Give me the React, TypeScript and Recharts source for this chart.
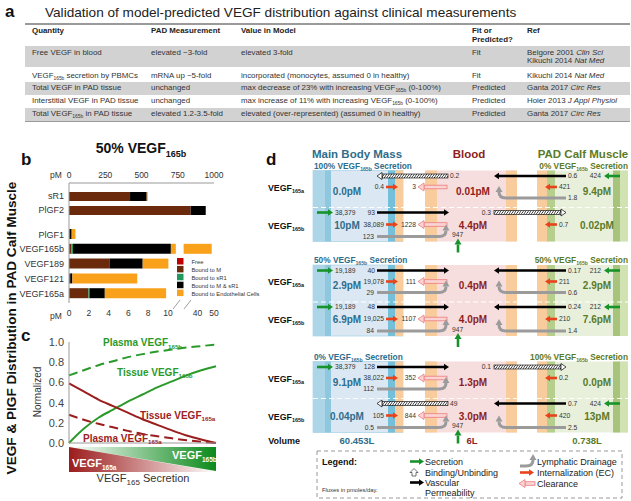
import React from 'react';
import { BarChart, Bar, XAxis, YAxis, LineChart, Line } from 'recharts';

const FONT = '"Liberation Sans", Arial, Helvetica, sans-serif';

// ---------- panel a: table ----------
const tableQuantity = ['Free VEGF in blood', 'VEGF_{165b} secretion by PBMCs', 'Total VEGF in PAD tissue', 'Interstitial VEGF in PAD tissue', 'Total VEGF_{165b} in PAD tissue'];
const tablePAD = ['elevated ~3-fold', 'mRNA up ~5-fold', 'unchanged', 'unchanged', 'elevated 1.2-3.5-fold'];
const tableModel = ['elevated 3-fold', 'incorporated (monocytes, assumed 0 in healthy)', 'max decrease of 23% with increasing VEGF_{165b} (0-100%)', 'max increase of 11% with increasing VEGF_{165b} (0-100%)', 'elevated (over-represented) (assumed 0 in healthy)'];
const tableFit = ['Fit', 'Fit', 'Predicted', 'Predicted', 'Predicted'];
const tableRef = ['Belgore 2001 *Clin Sci*|Kikuchi 2014 *Nat Med*', 'Kikuchi 2014 *Nat Med*', 'Ganta 2017 *Circ Res*', 'Hoier 2013 *J Appl Physiol*', 'Ganta 2017 *Circ Res*'];

// ---------- panel b: bars (pM) ----------
const topCats = ['sR1', 'PlGF2'];
const topFree = [0, 0];
const topM = [421, 839];
const topSR1 = [0, 0];
const topMSR1 = [115, 104];
const topEndo = [7, 0];
const topTicks = [0, 250, 500, 750, 1000];

const botCats = ['PlGF1', 'VEGF165b', 'VEGF189', 'VEGF121', 'VEGF165a'];
const botFree = [0, 0.02, 0, 0.02, 0.02];
const botM = [0.05, 0.22, 4.13, 0.1, 1.95];
const botSR1 = [0, 0.16, 0, 0, 0.1];
const botMSR1 = [0.22, 9.9, 3.32, 0.22, 1.55];
const botEndo = [0.38, 38.3, 2.6, 6.56, 6.2];
const botTicks = [0, 2, 4, 6, 8, 10, 40, 50];

const segKeys = ['free', 'm', 'sr1', 'msr1', 'endo'];
const segColors = ['#c00000', '#6b2a0c', '#1f9a5c', '#000000', '#f9a11b'];
const segLabels = ['Free', 'Bound to M', 'Bound to sR1', 'Bound to M & sR1', 'Bound to Endothelial Cells'];

// broken axis: 0-10.8 linear, 31.5-50 compressed
const BREAK_LO = 10.8;
const BREAK_HI = 31.5;
const hiMap = (v: number) => 13 + (v - 40) * 0.166;
const toDisp = (v: number) => {
  if (v <= BREAK_LO) return v;
  if (v >= BREAK_HI) return hiMap(v);
  return BREAK_LO + ((v - BREAK_LO) / (BREAK_HI - BREAK_LO)) * (hiMap(BREAK_HI) - BREAK_LO);
};

const topData = topCats.map((name, i) => ({
  name, free: topFree[i], m: topM[i], sr1: topSR1[i], msr1: topMSR1[i], endo: topEndo[i],
}));

const botData = botCats.map((name, i) => {
  const parts = [botFree[i], botM[i], botSR1[i], botMSR1[i], botEndo[i]];
  const row: any = { name, gap: 0, endo2: 0 };
  let cum = 0;
  segKeys.forEach((k, j) => {
    const s = cum;
    const e = cum + parts[j];
    cum = e;
    if (k === 'endo' && s < BREAK_LO && e > BREAK_HI) {
      row.endo = BREAK_LO - toDisp(s);
      row.gap = toDisp(BREAK_HI) - BREAK_LO;
      row.endo2 = toDisp(e) - toDisp(BREAK_HI);
    } else {
      row[k] = toDisp(e) - toDisp(s);
    }
  });
  return row;
});

// ---------- panel c: normalized curves ----------
const secretion = [0, 0.1, 0.2, 0.3, 0.4, 0.5, 0.6, 0.7, 0.8, 0.9, 1.0];
const plasma165b = [0.67, 0.72, 0.77, 0.81, 0.85, 0.88, 0.905, 0.925, 0.945, 0.96, 0.975];
const tissue165b = [0, 0.14, 0.25, 0.33, 0.41, 0.48, 0.55, 0.61, 0.67, 0.72, 0.76];
const tissue165a = [0.59, 0.51, 0.43, 0.365, 0.3, 0.235, 0.18, 0.125, 0.075, 0.035, 0];
const plasma165a = [0.28, 0.23, 0.19, 0.155, 0.12, 0.09, 0.067, 0.046, 0.028, 0.012, 0];
const lineData = secretion.map((x, i) => ({
  x, p165b: plasma165b[i], t165b: tissue165b[i], t165a: tissue165a[i], p165a: plasma165a[i],
}));

// ---------- panel d: compartment fluxes ----------
const blockHeadL = ['100%', '50%', '0%'];
const blockHeadR = ['0%', '50%', '100%'];
const blockTops = [170.5, 265, 361.5];
// [main, blood, calf] concentrations, rows a then b
const concA = [['0.0pM', '0.01pM', '9.4pM'], ['2.9pM', '0.4pM', '2.9pM'], ['9.1pM', '1.3pM', '0.0pM']];
const concB = [['10pM', '4.4pM', '0.02pM'], ['6.9pM', '4.0pM', '7.6pM'], ['0.04pM', '3.0pM', '13pM']];
type Flux = {
  sec?: string; perm: [string, 'r' | 'l', boolean]; intM: string; clear: string; lymM?: string;
  cperm?: [string, 'r' | 'l', boolean]; intC: string; csec?: string; lymC?: string;
};
const fluxA: Flux[] = [
  { perm: ['0.2', 'l', true], intM: '0.4', clear: '3', cperm: ['0.6', 'l', false], intC: '421', csec: '424', lymC: '1.8' },
  { sec: '19,189', perm: ['40', 'r', false], intM: '19,078', clear: '111', lymM: '29', cperm: ['0.17', 'l', false], intC: '211', csec: '212', lymC: '0.6' },
  { sec: '38,379', perm: ['128', 'r', false], intM: '38,022', clear: '352', lymM: '112', cperm: ['0.1', 'r', true], intC: '0.2' },
];
const fluxB: Flux[] = [
  { sec: '38,379', perm: ['93', 'r', false], intM: '38,089', clear: '1228', lymM: '123', cperm: ['0.3', 'r', true], intC: '0.7' },
  { sec: '19,189', perm: ['48', 'r', false], intM: '19,025', clear: '1107', lymM: '84', cperm: ['0.24', 'l', false], intC: '210', csec: '212', lymC: '1.4' },
  { perm: ['49', 'l', true], intM: '105', clear: '844', lymM: '0.5', cperm: ['0.7', 'l', false], intC: '420', csec: '424', lymC: '2.5' },
];
const volumes = ['60.453L', '6L', '0.738L'];

const TEAL = '#2e6d8c';
const BRED = '#8e1d1d';
const OLIVE = '#5a7a28';
const GREEN = '#18922a';
const REDA = '#e8431c';

function rich(s: string, key: any) {
  const out: any[] = [];
  const re = /(_\{[^}]*\}|\*[^*]*\*)/g;
  let last = 0;
  let m: any;
  let n = 0;
  while ((m = re.exec(s))) {
    if (m.index > last) out.push(s.slice(last, m.index));
    const t = m[0];
    if (t[0] === '_') out.push(<sub key={n++} style={{ fontSize: '0.62em', verticalAlign: '-0.35em', lineHeight: 0 }}>{t.slice(2, -1)}</sub>);
    else out.push(<i key={n++}>{t.slice(1, -1)}</i>);
    last = m.index + t.length;
  }
  if (last < s.length) out.push(s.slice(last));
  return <span key={key}>{out}</span>;
}

function Table() {
  const cols = [7, 126, 216, 447, 502];
  const rowTops = [46, 67, 82, 95, 108];
  const rowH = [21, 15, 13, 13, 13];
  const pad = [2.5, 4.5, 2, 2, 2];
  const cell = (left: number, content: any, key: any) => (
    <div key={key} style={{ position: 'absolute', left, top: 0, whiteSpace: 'nowrap' }}>{content}</div>
  );
  return (
    <div style={{ position: 'absolute', left: 25, top: 23, width: 605, height: 99, fontSize: 7.9, lineHeight: '8.6px', color: '#333' }}>
      <div style={{ position: 'absolute', left: 0, top: 0, width: 605, height: 1.5, background: '#9a9a9a' }} />
      <div style={{ position: 'absolute', left: 0, top: 4, width: 605, fontWeight: 'bold', color: '#222' }}>
        {cell(cols[0], 'Quantity', 0)}
        {cell(cols[1], 'PAD Measurement', 1)}
        {cell(cols[2], 'Value in Model', 2)}
        {cell(cols[3], <span>Fit or<br />Predicted?</span>, 3)}
        {cell(cols[4], 'Ref', 4)}
      </div>
      {tableQuantity.map((q, i) => (
        <div key={i} style={{ position: 'absolute', left: 0, top: rowTops[i] - 23, width: 605, height: rowH[i], background: i % 2 === 0 ? '#d2d2d2' : '#ffffff' }}>
          <div style={{ position: 'absolute', left: 0, top: pad[i], width: 605 }}>
            {cell(cols[0], rich(q, 'q'), 0)}
            {cell(cols[1], rich(tablePAD[i], 'p'), 1)}
            {cell(cols[2], rich(tableModel[i], 'm'), 2)}
            {cell(cols[3], tableFit[i], 3)}
            {cell(cols[4], <span>{tableRef[i].split('|').map((r, j) => <div key={j}>{rich(r, j)}</div>)}</span>, 4)}
          </div>
        </div>
      ))}
      <div style={{ position: 'absolute', left: 0, top: 98, width: 605, height: 1.2, background: '#9a9a9a' }} />
    </div>
  );
}

const Sub = ({ x, y, base, sub, after, size, fill, bold, anchor, subSize }: any) => (
  <text x={x} y={y} fontSize={size} fill={fill} fontWeight={bold ? 'bold' : 'normal'} textAnchor={anchor || 'start'}>
    {base}
    <tspan fontSize={subSize || size * 0.62} dy={size * 0.28}>{sub}</tspan>
    {after ? <tspan dy={-size * 0.28}>{after}</tspan> : null}
  </text>
);

function ArrowH({ x1, x2, y, color, w }: any) {
  const dir = Math.sign(x2 - x1);
  const h = 5;
  const xb = x2 - dir * h;
  const hh = w / 2 + 2;
  return (
    <g>
      <line x1={x1} y1={y} x2={xb} y2={y} stroke={color} strokeWidth={w} />
      <polygon points={`${x2},${y} ${xb},${y - hh} ${xb},${y + hh}`} fill={color} />
    </g>
  );
}

function Hatched({ x1, x2, y }: any) {
  const dir = Math.sign(x2 - x1);
  const xb = x2 - dir * 5;
  return (
    <g>
      <rect x={Math.min(x1, xb)} y={y - 2} width={Math.abs(xb - x1)} height={4} fill="url(#hatch)" stroke="#000" strokeWidth={0.6} />
      <polygon points={`${x2},${y} ${xb},${y - 3.5} ${xb},${y + 3.5}`} fill="#fff" stroke="#000" strokeWidth={0.7} />
    </g>
  );
}

function Hollow({ x1, x2, y }: any) {
  const dir = Math.sign(x2 - x1);
  const xb = x2 - dir * 6;
  return (
    <g>
      <rect x={Math.min(x1, xb)} y={y - 1.8} width={Math.abs(xb - x1)} height={3.6} fill="#fbd3d3" stroke="#ec7d7d" strokeWidth={0.8} />
      <polygon points={`${x2},${y} ${xb},${y - 4} ${xb},${y + 4}`} fill="#fbd3d3" stroke="#ec7d7d" strokeWidth={0.8} />
    </g>
  );
}

function Lymph({ x1, x2, y }: any) {
  const dir = Math.sign(x2 - x1);
  const xc = x2 - dir * 7;
  return (
    <g>
      <path d={`M${x1},${y} L${xc},${y} Q${x2},${y} ${x2},${y - 6}`} fill="none" stroke="#9b9b9b" strokeWidth={3} />
      <polygon points={`${x2},${y - 12} ${x2 - 3.5},${y - 6} ${x2 + 3.5},${y - 6}`} fill="#9b9b9b" />
    </g>
  );
}

const lbl = (x: number, y: number, t: string, anchor = 'start') => (
  <text x={x} y={y + 2.4} fontSize={6.7} fill="#333" textAnchor={anchor as any}>{t}</text>
);

function FluxRow({ f, T, yP, yI, yL }: any) {
  const fx: Flux = f;
  return (
    <g>
      {fx.sec ? <g><ArrowH x1={317} x2={333} y={T + yP} color={GREEN} w={2.6} />{lbl(335, T + yP, fx.sec)}</g> : null}
      {fx.perm[1] === 'r'
        ? <g><ArrowH x1={377} x2={449} y={T + yP} color="#000" w={2.3} />{lbl(375, T + yP, fx.perm[0], 'end')}</g>
        : <g>{fx.perm[2] ? <Hatched x1={448} x2={377} y={T + yP} /> : <ArrowH x1={448} x2={377} y={T + yP} color="#000" w={2.3} />}{lbl(450, T + yP, fx.perm[0])}</g>}
      <ArrowH x1={386} x2={398} y={T + yI} color={REDA} w={2.6} />
      {lbl(384, T + yI, fx.intM, 'end')}
      <Hollow x1={447} x2={418} y={T + yI} />
      {lbl(416, T + yI, fx.clear, 'end')}
      {fx.lymM ? <g><Lymph x1={377} x2={446} y={T + yL} />{lbl(374, T + yL, fx.lymM, 'end')}</g> : null}
      {fx.cperm ? (fx.cperm[1] === 'l'
        ? <g><ArrowH x1={566} x2={494} y={T + yP} color="#000" w={2.3} />{lbl(568, T + yP, fx.cperm[0])}</g>
        : <g>{fx.cperm[2] ? <Hatched x1={494} x2={566} y={T + yP} /> : <ArrowH x1={494} x2={566} y={T + yP} color="#000" w={2.3} />}{lbl(491, T + yP, fx.cperm[0], 'end')}</g>) : null}
      <ArrowH x1={557} x2={545} y={T + yI} color={REDA} w={2.6} />
      {lbl(559, T + yI, fx.intC)}
      {fx.csec ? <g><ArrowH x1={620} x2={604} y={T + yP} color={GREEN} w={2.6} />{lbl(601, T + yP, fx.csec, 'end')}</g> : null}
      {fx.lymC ? <g><Lymph x1={566} x2={499} y={T + yL} />{lbl(568, T + yL, fx.lymC)}</g> : null}
    </g>
  );
}

function Block({ i }: any) {
  const T = blockTops[i];
  const H = 71;
  const ca = concA[i];
  const cb = concB[i];
  return (
    <g>
      {/* main body mass */}
      <rect x={313} y={T} width={90} height={H} fill="#dbe8f4" stroke="#9ccbe0" strokeWidth={0.6} />
      <rect x={313} y={T} width={12} height={H} fill="#acd6e8" />
      <rect x={325} y={T} width={6} height={H} fill="#8fc8de" />
      <rect x={388} y={T} width={7} height={H} fill="#74bfd9" />
      <rect x={395} y={T} width={8} height={H} fill="#f9cc9e" />
      {/* blood */}
      <rect x={425} y={T} width={92} height={H} fill="#f6dede" />
      <rect x={425} y={T} width={12} height={H} fill="#f9cc9e" />
      <rect x={506} y={T} width={11} height={H} fill="#f9cc9e" />
      {/* calf */}
      <rect x={537} y={T} width={91} height={H} fill="#e8f0db" />
      <rect x={537} y={T} width={10} height={H} fill="#f9cc9e" />
      <rect x={547} y={T} width={8} height={H} fill="#b7cf8c" />
      <rect x={613} y={T} width={7} height={H} fill="#a8c47c" />
      <rect x={620} y={T} width={8} height={H} fill="#d2e3b3" />
      <line x1={313} x2={628} y1={T + 37} y2={T + 37} stroke="#ffffff" strokeWidth={1.2} strokeDasharray="5 3" />
      <Sub x={314} y={T - 2} base={`${blockHeadL[i]} VEGF`} sub="165b" after=" Secretion" size={8.3} fill={TEAL} bold />
      <Sub x={628} y={T - 2} base={`${blockHeadR[i]} VEGF`} sub="165b" after=" Secretion" size={8.3} fill={OLIVE} bold anchor="end" />
      <Sub x={268} y={T + 20} base="VEGF" sub="165a" size={8.8} fill="#111" bold />
      <Sub x={268} y={T + 58} base="VEGF" sub="165b" size={8.8} fill="#111" bold />
      <text x={347} y={T + 24} fontSize={10} fontWeight="bold" fill={TEAL} textAnchor="middle">{ca[0]}</text>
      <text x={473} y={T + 24} fontSize={10} fontWeight="bold" fill={BRED} textAnchor="middle">{ca[1]}</text>
      <text x={597} y={T + 24} fontSize={10} fontWeight="bold" fill={OLIVE} textAnchor="middle">{ca[2]}</text>
      <text x={347} y={T + 58} fontSize={10} fontWeight="bold" fill={TEAL} textAnchor="middle">{cb[0]}</text>
      <text x={473} y={T + 58} fontSize={10} fontWeight="bold" fill={BRED} textAnchor="middle">{cb[1]}</text>
      <text x={597} y={T + 58} fontSize={10} fontWeight="bold" fill={OLIVE} textAnchor="middle">{cb[2]}</text>
      <FluxRow f={fluxA[i]} T={T} yP={5.5} yI={16.5} yL={27.5} />
      <FluxRow f={fluxB[i]} T={T} yP={42} yI={54} yL={66} />
      {lbl(452, T + 64.5, '947')}
      <line x1={458} x2={458} y1={T + 82} y2={T + 74} stroke={GREEN} strokeWidth={2.6} />
      <polygon points={`458,${T + 68} ${454.5},${T + 74} ${461.5},${T + 74}`} fill={GREEN} />
    </g>
  );
}

function Overlay() {
  return (
    <svg width={631} height={501} style={{ position: 'absolute', left: 0, top: 0, pointerEvents: 'none', fontFamily: FONT }}>
      <defs>
        <pattern id="hatch" width={2.5} height={4} patternUnits="userSpaceOnUse" patternTransform="skewX(-35)">
          <rect width={2.5} height={4} fill="#fff" />
          <line x1={1.2} y1={0} x2={1.2} y2={4} stroke="#000" strokeWidth={0.7} />
        </pattern>
        <linearGradient id="gRed" x1="0" x2="1" y1="0" y2="0">
          <stop offset="0%" stopColor="#9c1c1c" />
          <stop offset="100%" stopColor="#9c1c1c" stopOpacity={0} />
        </linearGradient>
        <linearGradient id="gGreen" x1="0" x2="1" y1="0" y2="0">
          <stop offset="0%" stopColor="#0c8a1c" stopOpacity={0} />
          <stop offset="100%" stopColor="#0c8a1c" />
        </linearGradient>
      </defs>
      {/* panel labels */}
      <text x={5} y={17} fontSize={17} fontWeight="bold" fill="#111">a</text>
      <text x={45} y={17} fontSize={13.6} fill="#222">Validation of model-predicted VEGF distribution against clinical measurements</text>
      <text x={21} y={165} fontSize={17} fontWeight="bold" fill="#111">b</text>
      <text x={21} y={341} fontSize={17} fontWeight="bold" fill="#111">c</text>
      <text x={266} y={165} fontSize={17} fontWeight="bold" fill="#111">d</text>
      <text transform="translate(16,328) rotate(-90)" fontSize={13.6} fontWeight="bold" fill="#111" textAnchor="middle">VEGF &amp; PlGF Distribution in PAD Calf Muscle</text>

      {/* panel b extras */}
      <Sub x={141} y={153} base="50% VEGF" sub="165b" size={14} subSize={9} fill="#111" bold anchor="middle" />
      <text x={50} y={178} fontSize={8.5} fill="#333">pM</text>
      <text x={50} y={318.5} fontSize={8.5} fill="#333">pM</text>
      <line x1={173} y1={309} x2={180} y2={300} stroke="#888" strokeWidth={0.8} />
      <line x1={184} y1={309} x2={191} y2={300} stroke="#888" strokeWidth={0.8} />
      {segLabels.map((l, i) => (
        <g key={l}>
          <rect x={177} y={258 + i * 7.9} width={6.5} height={6.5} fill={segColors[i]} />
          <text x={191.5} y={264 + i * 7.9} fontSize={5.8} fill="#333">{l}</text>
        </g>
      ))}

      {/* panel c extras */}
      <text transform="translate(41,392) rotate(-90)" fontSize={10} fill="#333" textAnchor="middle">Normalized</text>
      <Sub x={103} y={346} base="Plasma VEGF" sub="165b" size={10} fill="#2a9a2a" bold />
      <Sub x={117} y={375.5} base="Tissue VEGF" sub="165b" size={10} fill="#2a9a2a" bold />
      <Sub x={140} y={418.5} base="Tissue VEGF" sub="165a" size={10} fill="#9b2222" bold />
      <Sub x={83} y={441.5} base="Plasma VEGF" sub="165a" size={10} fill="#9b2222" bold />
      <polygon points="69,447 216,471.5 216,472 69,472" fill="url(#gRed)" />
      <polygon points="69,447 216,447 216,471" fill="url(#gGreen)" />
      <Sub x={72} y={467} base="VEGF" sub="165a" size={11} subSize={6.5} fill="#fff" bold />
      <Sub x={172} y={459} base="VEGF" sub="165b" size={11} subSize={6.5} fill="#fff" bold />
      <Sub x={143} y={482} base="VEGF" sub="165" after=" Secretion" size={11} subSize={8} fill="#333" anchor="middle" />

      {/* panel d */}
      <text x={357} y={158} fontSize={11.5} fontWeight="bold" fill={TEAL} textAnchor="middle">Main Body Mass</text>
      <text x={469} y={158} fontSize={11.5} fontWeight="bold" fill={BRED} textAnchor="middle">Blood</text>
      <text x={583} y={158} fontSize={11.5} fontWeight="bold" fill={OLIVE} textAnchor="middle">PAD Calf Muscle</text>
      {blockTops.map((_, i) => <Block key={i} i={i} />)}
      <text x={300} y={444} fontSize={9} fontWeight="bold" fill="#111" textAnchor="end">Volume</text>
      <text x={357} y={444} fontSize={9.5} fontWeight="bold" fill={TEAL} textAnchor="middle">{volumes[0]}</text>
      <text x={472} y={444} fontSize={9.5} fontWeight="bold" fill={BRED} textAnchor="middle">{volumes[1]}</text>
      <text x={587} y={444} fontSize={9.5} fontWeight="bold" fill={OLIVE} textAnchor="middle">{volumes[2]}</text>

      {/* legend */}
      <rect x={317} y={451} width={305} height={47} fill="#fff" stroke="#999" strokeWidth={1} strokeDasharray="4 3" />
      <text x={322} y={465} fontSize={9} fontWeight="bold" fill="#111">Legend:</text>
      <text x={322} y={492} fontSize={5.8} fill="#333">Fluxes in pmoles/day.</text>
      <ArrowH x1={410} x2={424} y={461.5} color={GREEN} w={2.6} />
      <text x={425} y={464.5} fontSize={9} fill="#222">Secretion</text>
      <path d="M414,468.5 L418,472.5 L416,472.5 L416,476 L412,476 L412,472.5 L410,472.5 Z" fill="#fff" stroke="#333" strokeWidth={0.7} />
      <text x={425} y={476} fontSize={9} fill="#222">Binding/Unbinding</text>
      <ArrowH x1={410} x2={424} y={482.5} color="#000" w={2.6} />
      <text x={425} y={485.5} fontSize={9} fill="#222">Vascular</text>
      <text x={425} y={496} fontSize={9} fill="#222">Permeability</text>
      <Lymph x1={520} x2={533} y={466} />
      <text x={537} y={464.5} fontSize={9} fill="#222">Lymphatic Drainage</text>
      <ArrowH x1={520} x2={534} y={472.5} color={REDA} w={2.6} />
      <text x={537} y={475.5} fontSize={9} fill="#222">Internalization (EC)</text>
      <Hollow x1={535} x2={519} y={483.5} />
      <text x={537} y={486.5} fontSize={9} fill="#222">Clearance</text>
    </svg>
  );
}

const tickStyle = { fontSize: 8.5, fill: '#333', fontFamily: FONT };

export default function App() {
  return (
    <div style={{ position: 'absolute', left: 0, top: 0, width: 631, height: 501, background: '#fff', fontFamily: FONT, overflow: 'hidden' }}>
      <Table />
      <div style={{ position: 'absolute', left: 0, top: 160 }}>
        <BarChart width={230} height={57} data={topData} layout="vertical" margin={{ top: 0, right: 16, bottom: 0, left: 0 }} barCategoryGap={2}>
          <XAxis type="number" orientation="top" domain={[0, 1000]} ticks={topTicks} height={23} tick={tickStyle} tickLine={false} tickSize={3} tickMargin={2} axisLine={{ stroke: '#999' }} />
          <YAxis type="category" dataKey="name" width={69} interval={0} tick={{ ...tickStyle, fontSize: 9 }} tickLine={false} tickSize={3} tickMargin={2} axisLine={{ stroke: '#999' }} padding={{ top: 6, bottom: 0 }} />
          {segKeys.map((k, i) => (
            <Bar key={k} dataKey={k} stackId="s" fill={segColors[i]} barSize={9} isAnimationActive={false} />
          ))}
        </BarChart>
      </div>
      <div style={{ position: 'absolute', left: 0, top: 217 }}>
        <BarChart width={230} height={104} data={botData} layout="vertical" margin={{ top: 0, right: 16, bottom: 0, left: 0 }}>
          <XAxis type="number" domain={[0, toDisp(50)]} ticks={botTicks.map(toDisp)} tickFormatter={(v: number) => String(botTicks[botTicks.map(toDisp).findIndex((t) => Math.abs(t - v) < 1e-6)])} height={18} tick={tickStyle} tickLine={false} tickSize={4} tickMargin={3} axisLine={false} interval={0} />
          <YAxis type="category" dataKey="name" width={69} interval={0} tick={{ ...tickStyle, fontSize: 9 }} tickLine={false} tickSize={3} tickMargin={2} axisLine={{ stroke: '#999' }} padding={{ top: 10, bottom: 2 }} />
          {segKeys.map((k, i) => (
            <Bar key={k} dataKey={k} stackId="s" fill={segColors[i]} barSize={10} isAnimationActive={false} />
          ))}
          <Bar dataKey="gap" stackId="s" fill="transparent" barSize={10} isAnimationActive={false} />
          <Bar dataKey="endo2" stackId="s" fill={segColors[4]} barSize={10} isAnimationActive={false} />
        </BarChart>
      </div>
      <div style={{ position: 'absolute', left: 0, top: 330 }}>
        <LineChart width={230} height={125} data={lineData} margin={{ top: 12, right: 14, bottom: 10, left: 0 }}>
          <XAxis dataKey="x" type="number" domain={[0, 1]} tick={false} tickLine={false} height={2} axisLine={{ stroke: '#999' }} />
          <YAxis type="number" domain={[0, 1]} ticks={[0, 0.2, 0.4, 0.6, 0.8, 1]} tickFormatter={(v: number) => v.toFixed(1)} width={69} tick={{ fontSize: 11, fill: '#444', fontFamily: FONT }} tickSize={3} tickMargin={2} tickLine={false} axisLine={{ stroke: '#999' }} />
          <Line type="monotone" dataKey="p165b" stroke="#2a9a2a" strokeWidth={2} strokeDasharray="9 5" dot={false} isAnimationActive={false} />
          <Line type="monotone" dataKey="t165b" stroke="#2a9a2a" strokeWidth={2} dot={false} isAnimationActive={false} />
          <Line type="monotone" dataKey="t165a" stroke="#9b1e1e" strokeWidth={2} dot={false} isAnimationActive={false} />
          <Line type="monotone" dataKey="p165a" stroke="#9b1e1e" strokeWidth={2} strokeDasharray="9 5" dot={false} isAnimationActive={false} />
        </LineChart>
      </div>
      <Overlay />
    </div>
  );
}
